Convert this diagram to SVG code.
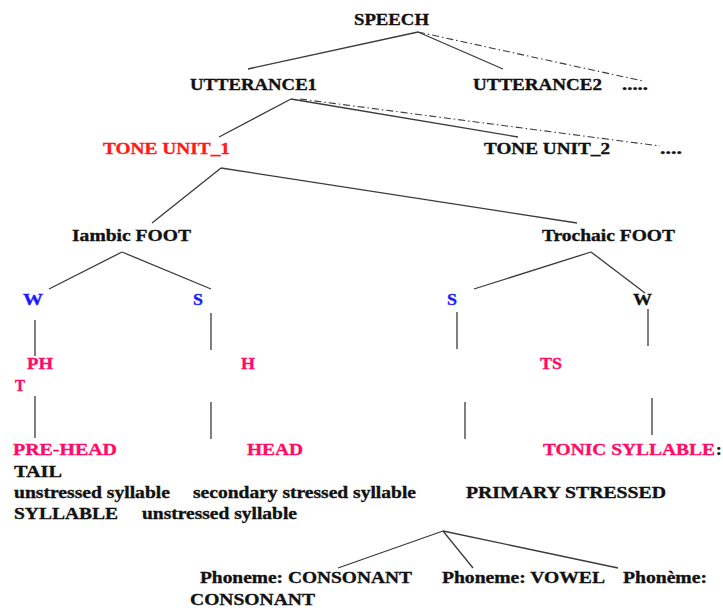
<svg xmlns="http://www.w3.org/2000/svg" width="723" height="608" viewBox="0 0 723 608">
<style>
text{font-family:"Liberation Serif","Times New Roman",serif;font-weight:bold;font-size:17px;fill:#111;stroke:#111;stroke-width:0.35}
.red{fill:#ff1a1a;stroke:#ff1a1a}
.pink{fill:#ff0a66;stroke:#ff0a66}
.blue{fill:#1a1aff;stroke:#1a1aff}
.ln line{stroke:#3a3a3a;stroke-width:1.3;fill:none}
.ln line.dd{stroke-dasharray:7 3 1.5 3;stroke-width:1.1}
</style>
<rect width="723" height="608" fill="#fff"/>
<g id="connectors" class="ln">
<line x1="418" y1="32" x2="248" y2="69"/>
<line x1="418" y1="32" x2="503" y2="69"/>
<line class="dd" x1="418" y1="32" x2="643" y2="81"/>
<line x1="291" y1="99" x2="219" y2="137"/>
<line x1="291" y1="99" x2="518" y2="137"/>
<line class="dd" x1="300" y1="99" x2="660" y2="146"/>
<line x1="221" y1="168" x2="152" y2="223"/>
<line x1="221" y1="168" x2="577" y2="223"/>
<line x1="122" y1="252" x2="49" y2="289"/>
<line x1="122" y1="252" x2="211" y2="289"/>
<line x1="591" y1="252" x2="474" y2="289"/>
<line x1="591" y1="252" x2="645" y2="293"/>
<line x1="35" y1="320" x2="35" y2="356"/>
<line x1="35" y1="396" x2="35" y2="438"/>
<line x1="211" y1="313" x2="211" y2="350"/>
<line x1="211" y1="402" x2="211" y2="439"/>
<line x1="457" y1="312" x2="457" y2="349"/>
<line x1="465" y1="402" x2="465" y2="439"/>
<line x1="648" y1="309" x2="648" y2="346"/>
<line x1="652" y1="398" x2="652" y2="435"/>
<line x1="443" y1="531" x2="338" y2="568"/>
<line x1="443" y1="531" x2="473" y2="568"/>
<line x1="443" y1="531" x2="618" y2="568"/>
</g>
<g id="speech"><text x="354" y="25" textLength="75" lengthAdjust="spacingAndGlyphs">SPEECH</text></g>
<g id="utterance1"><text x="190" y="90" textLength="127" lengthAdjust="spacingAndGlyphs">UTTERANCE1</text></g>
<g id="utterance2"><text x="473" y="90" textLength="129" lengthAdjust="spacingAndGlyphs">UTTERANCE2</text><text x="622" y="90" textLength="26" lengthAdjust="spacingAndGlyphs">.....</text></g>
<g id="toneunit1"><text class="red" x="103" y="154" textLength="127" lengthAdjust="spacingAndGlyphs">TONE UNIT_1</text></g>
<g id="toneunit2"><text x="484" y="154" textLength="126" lengthAdjust="spacingAndGlyphs">TONE UNIT_2</text><text x="660" y="154" textLength="22" lengthAdjust="spacingAndGlyphs">....</text></g>
<g id="iambic"><text x="72" y="241" textLength="119" lengthAdjust="spacingAndGlyphs">Iambic FOOT</text></g>
<g id="trochaic"><text x="542" y="241" textLength="133" lengthAdjust="spacingAndGlyphs">Trochaic FOOT</text></g>
<g id="w1"><text class="blue" x="23" y="305" textLength="20" lengthAdjust="spacingAndGlyphs">W</text></g>
<g id="s1"><text class="blue" x="193" y="305" textLength="10" lengthAdjust="spacingAndGlyphs">S</text></g>
<g id="s2"><text class="blue" x="447" y="305" textLength="10" lengthAdjust="spacingAndGlyphs">S</text></g>
<g id="w2"><text x="633" y="305" textLength="19" lengthAdjust="spacingAndGlyphs">W</text></g>
<g id="pht"><text class="pink" x="27" y="369" textLength="26" lengthAdjust="spacingAndGlyphs">PH</text><text class="pink" x="15" y="391" textLength="10" lengthAdjust="spacingAndGlyphs">T</text></g>
<g id="h"><text class="pink" x="241" y="369" textLength="14" lengthAdjust="spacingAndGlyphs">H</text></g>
<g id="ts"><text class="pink" x="540" y="369" textLength="22" lengthAdjust="spacingAndGlyphs">TS</text></g>
<g id="prehead"><text class="pink" x="13" y="455" textLength="104" lengthAdjust="spacingAndGlyphs">PRE-HEAD</text></g>
<g id="head"><text class="pink" x="247" y="455" textLength="56" lengthAdjust="spacingAndGlyphs">HEAD</text></g>
<g id="tonic"><text class="pink" x="543" y="455" textLength="172" lengthAdjust="spacingAndGlyphs">TONIC SYLLABLE</text><text x="716" y="455">:</text></g>
<g id="descriptions">
<text x="14" y="477" textLength="48" lengthAdjust="spacingAndGlyphs">TAIL</text>
<text x="14" y="498" textLength="156" lengthAdjust="spacingAndGlyphs">unstressed syllable</text>
<text x="193" y="498" textLength="223" lengthAdjust="spacingAndGlyphs">secondary stressed syllable</text>
<text x="466" y="498" textLength="200" lengthAdjust="spacingAndGlyphs">PRIMARY STRESSED</text>
<text x="14" y="519" textLength="104" lengthAdjust="spacingAndGlyphs">SYLLABLE</text>
<text x="142" y="519" textLength="155" lengthAdjust="spacingAndGlyphs">unstressed syllable</text>
</g>
<g id="phoneme-consonant"><text x="200" y="583" textLength="212" lengthAdjust="spacingAndGlyphs">Phoneme: CONSONANT</text><text x="190" y="605" textLength="125" lengthAdjust="spacingAndGlyphs">CONSONANT</text></g>
<g id="phoneme-vowel"><text x="442" y="583" textLength="163" lengthAdjust="spacingAndGlyphs">Phoneme: VOWEL</text></g>
<g id="phoneme-3"><text x="623" y="583" textLength="84" lengthAdjust="spacingAndGlyphs">Phonème:</text></g>
</svg>
